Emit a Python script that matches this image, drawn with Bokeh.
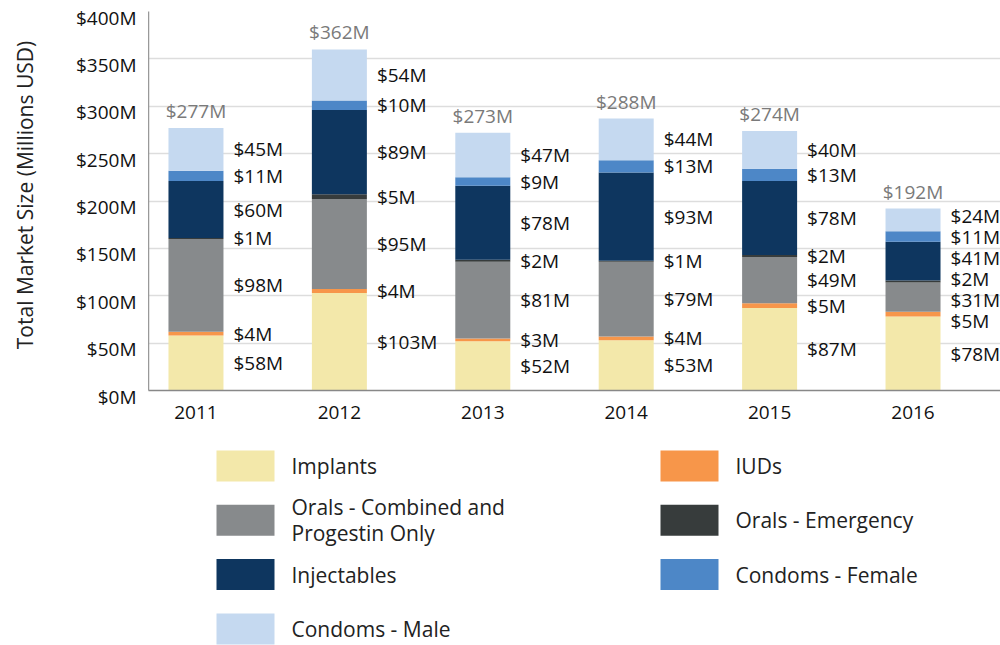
import math
from bokeh.plotting import figure
from bokeh.models import ColumnDataSource, Range1d, FixedTicker
from bokeh.layouts import column, row
from bokeh.embed import file_html
from bokeh.resources import INLINE
from bokeh.core.properties import value

# ---------------- data ----------------
years = ["2011", "2012", "2013", "2014", "2015", "2016"]
series = ["Implants", "IUDs", "Orals - Combined and\nProgestin Only",
          "Orals - Emergency", "Injectables", "Condoms - Female", "Condoms - Male"]
implants = [58, 103, 52, 53, 87, 78]
iuds = [4, 4, 3, 4, 5, 5]
orals = [98, 95, 81, 79, 49, 31]
emergency = [1, 5, 2, 1, 2, 2]
injectables = [60, 89, 78, 93, 78, 41]
condoms_female = [11, 10, 9, 13, 13, 11]
condoms_male = [45, 54, 47, 44, 40, 24]
totals = [277, 362, 273, 288, 274, 192]
y_ticks = [0, 50, 100, 150, 200, 250, 300, 350, 400]
y_tick_labels = ["$0M", "$50M", "$100M", "$150M", "$200M", "$250M", "$300M", "$350M", "$400M"]
colors = ["#F3E8AA", "#F7964A", "#878A8C", "#373C3C", "#0E365F", "#4D87C7", "#C5D9F0"]
y_title = "Total Market Size (Millions USD)"

values = [implants, iuds, orals, emergency, injectables, condoms_female, condoms_male]

FONT = "Open Sans"
W = 1000
H_TOTAL = 645

# ---------------- geometry ----------------
left_w = 148
frame_top, frame_bottom_margin = 11, 50
H1 = 440
x_start, x_end = -0.331, 5.61
y_max = 400
frame_w = W - left_w
frame_h = H1 - frame_top - frame_bottom_margin
px_x = frame_w / (x_end - x_start)
px_y = frame_h / y_max
bar_w = 55 / px_x
label_dx = bar_w / 2 + 10 / px_x
gap = 21 / px_y

xs = list(range(len(years)))
keys = ["s%d" % k for k in range(len(series))]
data = {"x": xs}
for k, v in zip(keys, values):
    data[k] = v
src = ColumnDataSource(data)

p = figure(width=frame_w, height=H1, output_backend="svg", toolbar_location=None,
           x_range=Range1d(x_start, x_end), y_range=Range1d(0, y_max),
           min_border_left=0, min_border_right=0,
           min_border_top=frame_top, min_border_bottom=frame_bottom_margin)
p.frame_align = False
p.outline_line_color = None
p.xgrid.grid_line_color = None
p.ygrid.ticker = FixedTicker(ticks=y_ticks)
p.ygrid.grid_line_color = "#DDDDDD"
p.ygrid.grid_line_width = 1.5

p.vbar_stack(keys, x="x", width=bar_w, color=colors, line_color=None, source=src)


def spread(centers, g):
    pos = list(centers)
    for _ in range(500):
        moved = False
        for k in range(len(pos) - 1):
            d = pos[k + 1] - pos[k]
            if d < g - 1e-6:
                push = (g - d) / 2
                pos[k] -= push
                pos[k + 1] += push
                moved = True
        if not moved:
            break
    return pos


lx, ly, lt = [], [], []
for i in range(len(years)):
    cum = 0
    centers = []
    for v in values:
        centers.append(cum + v[i] / 2)
        cum += v[i]
    pos = spread(centers, gap)
    for k, v in enumerate(values):
        lx.append(xs[i] + label_dx)
        ly.append(pos[k])
        lt.append("$%dM" % v[i])

p.text(x=lx, y=ly, text=lt, text_align="left", text_baseline="middle",
       text_font=value(FONT), text_font_size="19px", text_color="#111111")

stack_tops = [sum(v[i] for v in values) for i in range(len(years))]
p.text(x=xs, y=[t + 17 / px_y for t in stack_tops], text=["$%dM" % t for t in totals],
       text_align="center", text_baseline="alphabetic",
       text_font=value(FONT), text_font_size="19px", text_color="#7A7A7A")

# left axis: line only (labels and title are drawn in the panel on its left)
p.yaxis.ticker = FixedTicker(ticks=[])
p.yaxis.major_tick_in = 0
p.yaxis.major_tick_out = 0
p.yaxis.minor_tick_in = 0
p.yaxis.minor_tick_out = 0
p.yaxis.major_label_standoff = 0
p.yaxis.axis_label_standoff = 0
p.yaxis.axis_line_color = "#999999"
p.yaxis.axis_line_width = 1.5

p.xaxis.ticker = FixedTicker(ticks=xs)
p.xaxis.major_label_overrides = {i: y for i, y in zip(xs, years)}
p.xaxis.major_tick_in = 0
p.xaxis.major_tick_out = 0
p.xaxis.minor_tick_in = 0
p.xaxis.minor_tick_out = 0
p.xaxis.major_label_standoff = 15
p.xaxis.major_label_text_font = FONT
p.xaxis.major_label_text_font_size = "19px"
p.xaxis.major_label_text_color = "#111111"
p.xaxis.axis_line_color = "#888888"
p.xaxis.axis_line_width = 1.5

# ---------------- y tick labels and title panel ----------------
pl = figure(width=left_w, height=H1, output_backend="svg", toolbar_location=None,
            x_range=Range1d(0, left_w),
            y_range=Range1d(-frame_bottom_margin / px_y, y_max + frame_top / px_y),
            x_axis_type=None, y_axis_type=None, min_border=0,
            min_border_left=0, min_border_right=0, min_border_top=0, min_border_bottom=0)
pl.frame_align = False
pl.outline_line_color = None
pl.grid.visible = False
pl.text(x=[left_w - 12] * len(y_ticks), y=[t - 6 / px_y for t in y_ticks], text=y_tick_labels,
        text_align="right", text_baseline="middle",
        text_font=value(FONT), text_font_size="19px", text_color="#111111")
pl.text(x=[24], y=[y_max / 2 + 6 / px_y], text=[y_title], angle=math.pi / 2,
        text_align="center", text_baseline="middle",
        text_font=value(FONT), text_font_size="21px", text_color="#222222")

# ---------------- legend ----------------
H2 = H_TOTAL - H1
p2 = figure(width=W, height=H2, output_backend="svg", toolbar_location=None,
            x_range=Range1d(0, W), y_range=Range1d(H_TOTAL, H1),
            x_axis_type=None, y_axis_type=None, min_border=0,
            min_border_left=0, min_border_right=0,
            min_border_top=0, min_border_bottom=0)
p2.frame_align = False
p2.outline_line_color = None
p2.grid.visible = False

sw_w, sw_h = 58, 31
col_left = [216, 660]
row_top0, row_step = 450, 54.3
leg_left = [col_left[k % 2] for k in range(len(series))]
leg_top = [row_top0 + row_step * (k // 2) for k in range(len(series))]
p2.quad(left=leg_left, right=[l + sw_w for l in leg_left],
        top=leg_top, bottom=[t + sw_h for t in leg_top],
        color=colors, line_color=None)
p2.text(x=[l + 75 for l in leg_left], y=[t + sw_h / 2 for t in leg_top], text=series,
        text_align="left", text_baseline="middle", text_line_height=0.92,
        text_font=value(FONT), text_font_size="21px", text_color="#222222")

layout = column(row(pl, p, spacing=0), p2, spacing=0)
open("out.html", "w").write(file_html(layout, INLINE))
